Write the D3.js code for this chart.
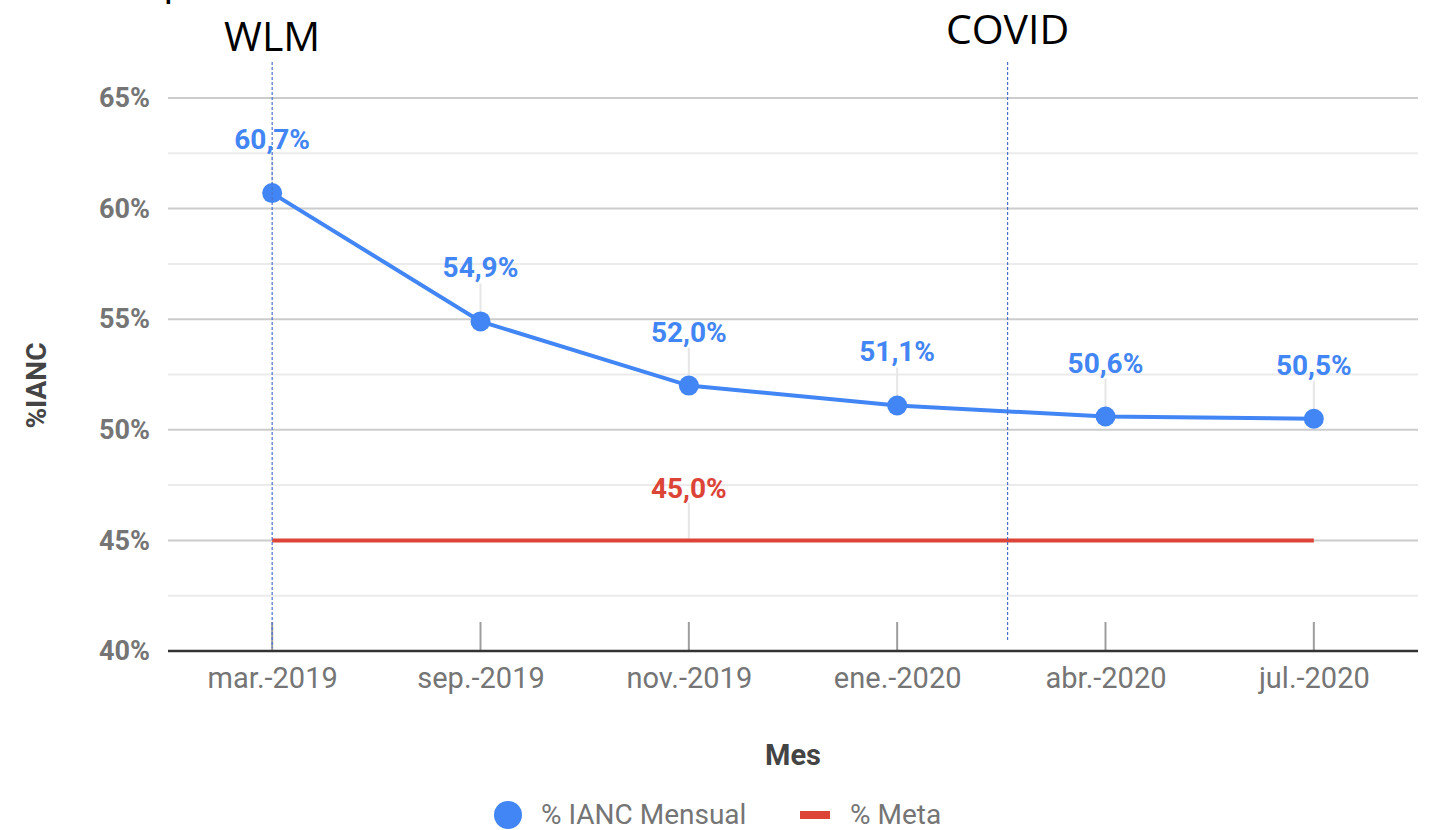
<!DOCTYPE html>
<html>
<head>
<meta charset="utf-8">
<script src="https://cdn.jsdelivr.net/npm/d3@7"></script>
<style>
body { margin:0; background:#fff; }
text { font-family: Roboto, "Noto Sans", sans-serif; }
.note { font-family: "Open Sans", "Liberation Sans", sans-serif; fill:#000; }
</style>
</head>
<body>
<svg id="chart"></svg>
<script>
var months = ["mar.-2019","sep.-2019","nov.-2019","ene.-2020","abr.-2020","jul.-2020"];
var ianc = [60.7, 54.9, 52.0, 51.1, 50.6, 50.5];
var meta = [45, 45, 45, 45, 45, 45];
var yTicks = [40, 45, 50, 55, 60, 65];
var minorTicks = [42.5, 47.5, 52.5, 57.5, 62.5];
var events = [{name:"WLM", at:"mar.-2019", shift:0}, {name:"COVID", at:"ene.-2020", shift:0.53}];

var screen = {width:1430, height:830};
var margins = {top:98, bottom:179, left:168, right:12};
var graph = {
    width:screen.width-margins.left-margins.right,
    height:screen.height-margins.top-margins.bottom
};

var svg = d3.select("#chart")
    .attr("width",screen.width)
    .attr("height",screen.height);

var g = svg.append("g")
    .attr("transform","translate("+margins.left+","+margins.top+")");

var xScale = d3.scalePoint()
    .domain(months)
    .range([0,graph.width])
    .padding(0.5);

var yScale = d3.scaleLinear()
    .domain([40,65])
    .range([graph.height,0]);

var fmt = function(v){ return v.toFixed(1).replace(".",",")+"%"; };

// grid
g.selectAll(".minor").data(minorTicks).enter().append("line")
    .attr("x1",0).attr("x2",graph.width)
    .attr("y1",function(d){return yScale(d);}).attr("y2",function(d){return yScale(d);})
    .attr("stroke","#ebebeb").attr("stroke-width",2);
g.selectAll(".major").data(yTicks.slice(1)).enter().append("line")
    .attr("x1",0).attr("x2",graph.width)
    .attr("y1",function(d){return yScale(d);}).attr("y2",function(d){return yScale(d);})
    .attr("stroke","#cccccc").attr("stroke-width",2);

// y axis labels
var yAxis = d3.axisLeft(yScale).tickValues(yTicks).tickSize(0).tickPadding(18)
    .tickFormat(function(d){return d+"%";});
var ya = g.append("g").call(yAxis);
ya.select(".domain").remove();
ya.selectAll("text").attr("fill","#757575").attr("font-size",27).attr("font-weight","bold");

// x ticks
g.selectAll(".xtick").data(months).enter().append("line")
    .attr("x1",function(d){return xScale(d);}).attr("x2",function(d){return xScale(d);})
    .attr("y1",graph.height-29).attr("y2",graph.height)
    .attr("stroke","#9e9e9e").attr("stroke-width",2);

var xAxis = d3.axisBottom(xScale).tickSize(0).tickPadding(16);
var xa = g.append("g").attr("transform","translate(0,"+graph.height+")").call(xAxis);
xa.select(".domain").remove();
xa.selectAll("text").attr("fill","#757575").attr("font-size",29);
g.append("line").attr("x1",0).attr("x2",graph.width)
    .attr("y1",graph.height).attr("y2",graph.height)
    .attr("stroke","#333").attr("stroke-width",2.5);

// leader lines
g.selectAll(".lead").data(ianc).enter().append("line")
    .attr("x1",function(d,i){return xScale(months[i]);}).attr("x2",function(d,i){return xScale(months[i]);})
    .attr("y1",function(d){return yScale(d)-38;}).attr("y2",function(d){return yScale(d);})
    .attr("stroke","#e6e6e6").attr("stroke-width",2);
g.append("line")
    .attr("x1",xScale(months[2])).attr("x2",xScale(months[2]))
    .attr("y1",yScale(meta[2])-38).attr("y2",yScale(meta[2]))
    .attr("stroke","#e6e6e6").attr("stroke-width",2);

// meta line
var line = d3.line()
    .x(function(d,i){return xScale(months[i]);})
    .y(function(d){return yScale(d);});
g.append("path").datum(meta).attr("d",line)
    .attr("fill","none").attr("stroke","#db4437").attr("stroke-width",4);
g.append("text").text(fmt(meta[2]))
    .attr("x",xScale(months[2])).attr("y",yScale(meta[2])-42)
    .attr("text-anchor","middle").attr("fill","#db4437")
    .attr("font-size",28).attr("font-weight","bold");

// ianc line
g.append("path").datum(ianc).attr("d",line)
    .attr("fill","none").attr("stroke","#4285f4").attr("stroke-width",4);
g.selectAll(".dot").data(ianc).enter().append("circle")
    .attr("cx",function(d,i){return xScale(months[i]);})
    .attr("cy",function(d){return yScale(d);})
    .attr("r",10).attr("fill","#4285f4");
g.selectAll(".lbl").data(ianc).enter().append("text")
    .text(function(d){return fmt(d);})
    .attr("x",function(d,i){return xScale(months[i]);})
    .attr("y",function(d){return yScale(d)-44;})
    .attr("text-anchor","middle").attr("fill","#4285f4")
    .attr("font-size",28).attr("font-weight","bold");

// event markers
var step = xScale.step();
events.forEach(function(ev,i){
    var x = margins.left+xScale(ev.at)+ev.shift*step;
    svg.append("line")
        .attr("x1",x).attr("x2",x)
        .attr("y1",62).attr("y2",i==0?648:640)
        .attr("stroke","#4a72cc").attr("stroke-width",1.2)
        .attr("stroke-dasharray","3,2");
    svg.append("text").attr("class","note").text(ev.name)
        .attr("x",x).attr("y",i==0?51:44)
        .attr("text-anchor","middle").attr("font-size",41);
});
svg.append("text").attr("class","note").text("p")
    .attr("x",163).attr("y",-6).attr("font-size",42);

// axis titles
svg.append("text").text("Mes")
    .attr("x",margins.left+graph.width/2).attr("y",765)
    .attr("text-anchor","middle").attr("fill","#444")
    .attr("font-size",29).attr("font-weight","bold");
svg.append("g").attr("transform","translate(46,"+(margins.top+graph.height*0.52)+")")
    .append("text").text("%IANC")
    .attr("transform","rotate(-90)")
    .attr("text-anchor","middle").attr("fill","#444")
    .attr("font-size",28).attr("font-weight","bold");

// legend
var legend = svg.append("g").attr("transform","translate(0,815)");
legend.append("circle").attr("cx",508).attr("cy",0).attr("r",14).attr("fill","#4285f4");
legend.append("text").text("% IANC Mensual").attr("x",541).attr("y",9)
    .attr("fill","#757575").attr("font-size",28);
legend.append("rect").attr("x",800).attr("y",-4).attr("width",30).attr("height",8).attr("fill","#db4437");
legend.append("text").text("% Meta").attr("x",850).attr("y",9)
    .attr("fill","#757575").attr("font-size",28);
</script>
</body>
</html>
